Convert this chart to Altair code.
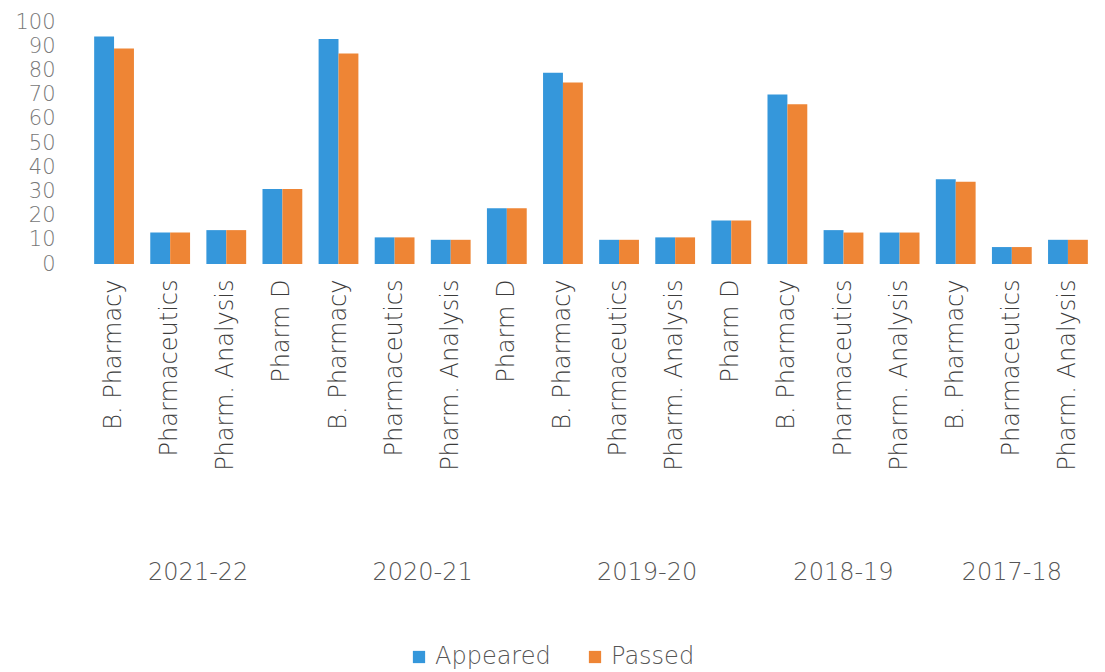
import altair as alt
import pandas as pd

years = ["2021-22"] * 4 + ["2020-21"] * 4 + ["2019-20"] * 4 + ["2018-19"] * 3 + ["2017-18"] * 3
courses = [
    "B. Pharmacy", "Pharmaceutics", "Pharm. Analysis", "Pharm D",
    "B. Pharmacy", "Pharmaceutics", "Pharm. Analysis", "Pharm D",
    "B. Pharmacy", "Pharmaceutics", "Pharm. Analysis", "Pharm D",
    "B. Pharmacy", "Pharmaceutics", "Pharm. Analysis",
    "B. Pharmacy", "Pharmaceutics", "Pharm. Analysis",
]
appeared = [94, 13, 14, 31, 93, 11, 10, 23, 79, 10, 11, 18, 70, 14, 13, 35, 7, 10]
passed = [89, 13, 14, 31, 87, 11, 10, 23, 75, 10, 11, 18, 66, 13, 13, 34, 7, 10]

keys = [f"{y}|{c}" for y, c in zip(years, courses)]

rows = []
for k, a, p in zip(keys, appeared, passed):
    rows.append({"key": k, "series": "Appeared", "value": a})
    rows.append({"key": k, "series": "Passed", "value": p})
df = pd.DataFrame(rows)

year_labels4 = pd.DataFrame({"year": ["2021-22", "2020-21", "2019-20"],
                             "key": ["2021-22|Pharmaceutics", "2020-21|Pharmaceutics", "2019-20|Pharmaceutics"]})
year_labels3 = pd.DataFrame({"year": ["2018-19", "2017-18"],
                             "key": ["2018-19|Pharmaceutics", "2017-18|Pharmaceutics"]})

FONT = "DejaVu Sans"
W = 200

xscale = alt.Scale(domain=keys, paddingInner=0, paddingOuter=0)

bars = alt.Chart(df).mark_bar().encode(
    x=alt.X("key:N", scale=xscale, sort=keys,
            axis=alt.Axis(title=None, labelAngle=-90, labelExpr="split(datum.label, '|')[1]",
                          labelFontSize=24, labelColor="#3c3c3c", labelFont=FONT, labelFontWeight=W,
                          labelLimit=400,
                          ticks=False, domain=False, labelPadding=15, labelAlign="right",
                          labelBaseline="middle")),
    xOffset=alt.XOffset("series:N", scale=alt.Scale(paddingOuter=0.41, paddingInner=0)),
    y=alt.Y("value:Q", scale=alt.Scale(domain=[0, 100]),
            axis=alt.Axis(title=None, values=list(range(0, 101, 10)), grid=False, domain=False,
                          ticks=False, labelFontSize=21, labelColor="#777", labelFont=FONT,
                          labelFontWeight=W, labelPadding=31)),
    color=alt.Color("series:N",
                    scale=alt.Scale(domain=["Appeared", "Passed"], range=["#3597DB", "#EE8535"]),
                    legend=alt.Legend(title=None, orient="none", legendX=321, legendY=623,
                                      direction="horizontal", symbolType="square", symbolSize=150,
                                      labelFontSize=24, labelColor="#555", labelFont=FONT,
                                      labelFontWeight=W, columnPadding=32, symbolStrokeWidth=0)),
)

yr4 = alt.Chart(year_labels4).mark_text(fontSize=24, font=FONT, fontWeight=W, color="#555",
                                        baseline="middle").encode(
    x=alt.X("key:N", scale=xscale, sort=keys, bandPosition=1),
    y=alt.value(551),
    text="year:N",
)
yr3 = alt.Chart(year_labels3).mark_text(fontSize=24, font=FONT, fontWeight=W, color="#555",
                                        baseline="middle").encode(
    x=alt.X("key:N", scale=xscale, sort=keys, bandPosition=0.5),
    y=alt.value(551),
    text="year:N",
)

chart = alt.layer(bars, yr4, yr3).properties(
    width=1010, height=242,
    padding={"left": 6, "top": 3, "right": 0, "bottom": 0},
).configure_view(stroke=None)

chart.save("out.html", embed_options={"renderer": "svg", "actions": False})
